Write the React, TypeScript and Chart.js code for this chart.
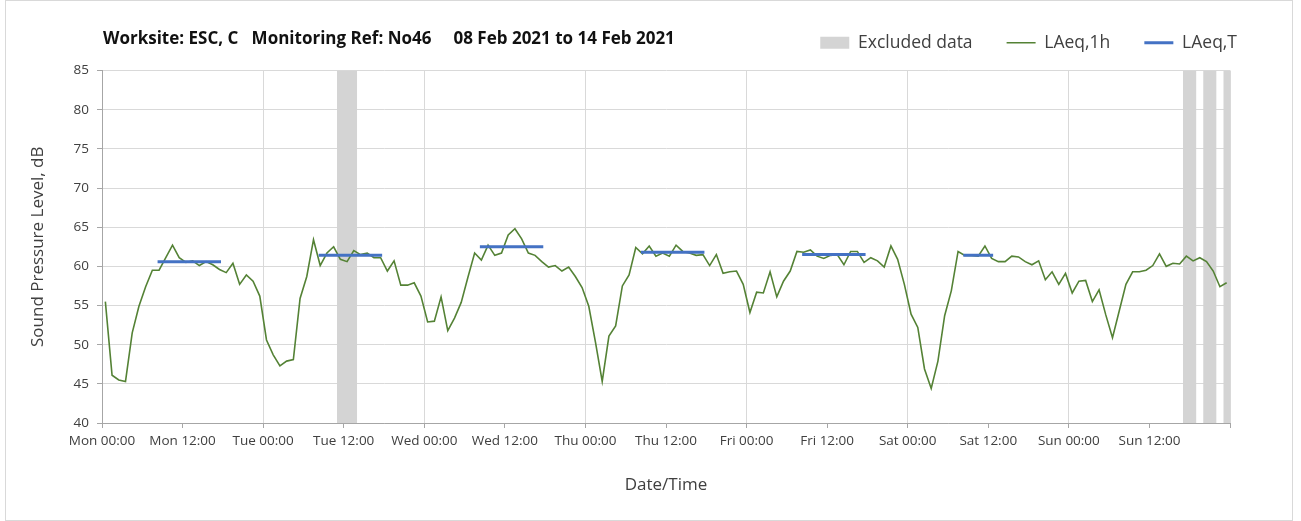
import React, { useEffect, useRef } from 'react';
import { Chart, registerables } from 'chart.js';

Chart.register(...registerables);

const FONT = '"Open Sans", "DejaVu Sans", sans-serif';

const chartTitle = 'Worksite: ESC, C   Monitoring Ref: No46     08 Feb 2021 to 14 Feb 2021';
const xAxisTitle = 'Date/Time';
const yAxisTitle = 'Sound Pressure Level, dB';

// x tick labels every 12 hours
const xTickLabels = [
  'Mon 00:00', 'Mon 12:00', 'Tue 00:00', 'Tue 12:00', 'Wed 00:00', 'Wed 12:00',
  'Thu 00:00', 'Thu 12:00', 'Fri 00:00', 'Fri 12:00', 'Sat 00:00', 'Sat 12:00',
  'Sun 00:00', 'Sun 12:00',
];

// hourly LAeq,1h values, hour 0 = Mon 00:00 (plotted at the centre of each hour)
const laeq1h = [
  55.5, 46.1, 45.5, 45.3, 51.5, 54.9, 57.4, 59.5, 59.5, 61.1, 62.7, 61.1,
  60.5, 60.7, 60.1, 60.6, 60.2, 59.6, 59.2, 60.4, 57.7, 58.9, 58.1, 56.2,
  50.6, 48.7, 47.3, 47.9, 48.1, 55.9, 58.7, 63.4, 60.1, 61.7, 62.5, 60.9,
  60.6, 62.0, 61.5, 61.7, 61.1, 61.1, 59.4, 60.7, 57.6, 57.6, 57.9, 56.2,
  52.9, 53.0, 56.1, 51.8, 53.4, 55.4, 58.6, 61.7, 60.8, 62.7, 61.4, 61.7,
  64.0, 64.8, 63.5, 61.7, 61.4, 60.6, 59.9, 60.1, 59.4, 59.9, 58.7, 57.3,
  54.9, 50.3, 45.3, 51.1, 52.4, 57.5, 58.9, 62.4, 61.6, 62.6, 61.3, 61.7,
  61.3, 62.7, 61.9, 61.7, 61.4, 61.5, 60.1, 61.5, 59.1, 59.3, 59.4, 57.7,
  54.1, 56.7, 56.6, 59.3, 56.1, 58.1, 59.4, 61.9, 61.8, 62.1, 61.3, 61.0,
  61.4, 61.5, 60.2, 61.9, 61.9, 60.5, 61.1, 60.7, 59.9, 62.6, 60.9, 57.7,
  53.9, 52.2, 46.9, 44.4, 47.9, 53.7, 56.9, 61.9, 61.4, 61.4, 61.3, 62.6,
  61.0, 60.6, 60.6, 61.3, 61.2, 60.6, 60.2, 60.7, 58.3, 59.3, 57.7, 59.1,
  56.6, 58.1, 58.2, 55.5, 57.0, 53.8, 50.9, 54.3, 57.7, 59.3, 59.3, 59.5,
  60.1, 61.6, 60.0, 60.4, 60.3, 61.3, 60.7, 61.1, 60.6, 59.4, 57.4, 57.9,
];

// LAeq,T daytime periods (start hour, end hour exclusive, level)
const periodStart = [8, 32, 56, 80, 104, 128];
const periodEnd = [18, 42, 66, 90, 114, 133];
const laeqT = [60.6, 61.4, 62.5, 61.8, 61.5, 61.4];

// Excluded data (hours)
const excludedStart = [35, 161, 164, 167];
const excludedEnd = [38, 163, 166, 168];

const Y_MIN = 40;
const Y_MAX = 85;

export default function App() {
  const canvasRef = useRef<HTMLCanvasElement | null>(null);

  useEffect(() => {
    const canvas = canvasRef.current;
    if (!canvas) return;

    const greenData = laeq1h.map((v, i) => ({ x: i + 0.5, y: v }));

    const blueData: { x: number; y: number | null }[] = [];
    periodStart.forEach((s, i) => {
      blueData.push({ x: s + 0.5, y: laeqT[i] });
      blueData.push({ x: periodEnd[i] - 0.5, y: laeqT[i] });
      blueData.push({ x: periodEnd[i] - 0.5, y: null });
    });

    const exclData: { x: number; y: number | null }[] = [];
    excludedStart.forEach((s, i) => {
      exclData.push({ x: s, y: Y_MAX });
      exclData.push({ x: excludedEnd[i], y: Y_MAX });
      exclData.push({ x: excludedEnd[i], y: null });
    });

    const chart = new Chart(canvas, {
      type: 'line',
      data: {
        datasets: [
          {
            label: 'Excluded data',
            data: exclData,
            fill: 'start',
            backgroundColor: '#d4d4d4',
            borderColor: 'rgba(0,0,0,0)',
            borderWidth: 0,
            pointRadius: 0,
            pointStyle: 'rect',
            pointBackgroundColor: '#d4d4d4',
            pointBorderWidth: 0,
            spanGaps: false,
            order: 3,
          },
          {
            label: 'LAeq,1h',
            data: greenData,
            borderColor: '#548235',
            backgroundColor: '#548235',
            borderWidth: 1.6,
            pointRadius: 0,
            pointStyle: 'line',
            pointBorderColor: '#548235',
            pointBorderWidth: 1.6,
            tension: 0,
            fill: false,
            order: 2,
          },
          {
            label: 'LAeq,T',
            data: blueData,
            borderColor: '#4472C4',
            backgroundColor: '#4472C4',
            borderWidth: 3,
            borderCapStyle: 'square',
            pointRadius: 0,
            pointStyle: 'line',
            pointBorderColor: '#4472C4',
            pointBorderWidth: 3,
            spanGaps: false,
            fill: false,
            order: 1,
          },
        ],
      },
      options: {
        animation: false,
        responsive: false,
        maintainAspectRatio: false,
        layout: { padding: { left: 0, right: 30, top: 0, bottom: 0 } },
        plugins: {
          tooltip: { enabled: false },
          title: { display: false },
          legend: {
            display: true,
            position: 'top',
            align: 'end',
            labels: {
              usePointStyle: true,
              pointStyleWidth: 29,
              boxHeight: 12,
              padding: 34,
              color: '#404040',
              font: { family: FONT, size: 17.5 },
              sort: (a: any, b: any) => a.datasetIndex - b.datasetIndex,
            },
          },
        },
        scales: {
          x: {
            type: 'linear',
            position: 'bottom',
            min: 0,
            max: 168,
            afterFit: (s: any) => { s.height = 98; },
            ticks: {
              stepSize: 12,
              autoSkip: false,
              maxRotation: 0,
              minRotation: 0,
              padding: 5,
              color: '#404040',
              font: { family: FONT, size: 13.5 },
              callback: (v: any) => {
                const idx = Math.round(Number(v) / 12);
                return xTickLabels[idx] ?? '';
              },
            },
            grid: {
              color: (ctx: any) =>
                ctx.tick && Math.round(ctx.tick.value) % 24 === 0 ? '#d9d9d9' : 'rgba(0,0,0,0)',
              tickColor: '#a6a6a6',
              tickLength: 5,
              lineWidth: 1,
            },
            border: { color: '#a6a6a6' },
            title: {
              display: true,
              text: xAxisTitle,
              color: '#404040',
              font: { family: FONT, size: 17 },
              padding: { top: 0, bottom: 26 },
            },
          },
          y: {
            type: 'linear',
            position: 'left',
            min: Y_MIN,
            max: Y_MAX,
            afterFit: (s: any) => { s.width = 102; },
            ticks: {
              stepSize: 5,
              padding: 8,
              color: '#404040',
              font: { family: FONT, size: 13.5 },
            },
            grid: {
              color: '#d9d9d9',
              tickColor: '#a6a6a6',
              tickLength: 5,
              lineWidth: 1,
            },
            border: { color: '#a6a6a6' },
            title: {
              display: true,
              text: yAxisTitle,
              color: '#404040',
              font: { family: FONT, size: 17 },
              padding: { top: 28, bottom: 0 },
            },
          },
          yRight: {
            type: 'linear',
            position: 'right',
            display: true,
            afterFit: (s: any) => { s.width = 41; },
            grid: { display: false, drawTicks: false },
            ticks: { display: false },
            border: { display: false },
          },
          xTop: {
            type: 'linear',
            position: 'top',
            display: true,
            afterFit: (s: any) => { s.height = 9; },
            grid: { display: false, drawTicks: false },
            ticks: { display: false },
            border: { display: false },
          },
        },
      } as any,
    });

    return () => chart.destroy();
  }, []);

  return (
    <div style={{ position: 'absolute', left: 0, top: 0, width: 1301, height: 521 }}>
      <div
        style={{
          position: 'absolute',
          left: 5,
          top: 0,
          width: 1288,
          height: 521,
          boxSizing: 'border-box',
          border: '1px solid #d9d9d9',
        }}
      />
      <canvas
        ref={canvasRef}
        width={1301}
        height={521}
        style={{ position: 'absolute', left: 0, top: 0, display: 'block' }}
      />
      <div
        style={{
          position: 'absolute',
          left: 103,
          top: 26,
          whiteSpace: 'pre',
          fontFamily: FONT,
          fontWeight: 700,
          fontSize: 17,
          lineHeight: '24px',
          color: '#111111',
        }}
      >
        {chartTitle}
      </div>
    </div>
  );
}
